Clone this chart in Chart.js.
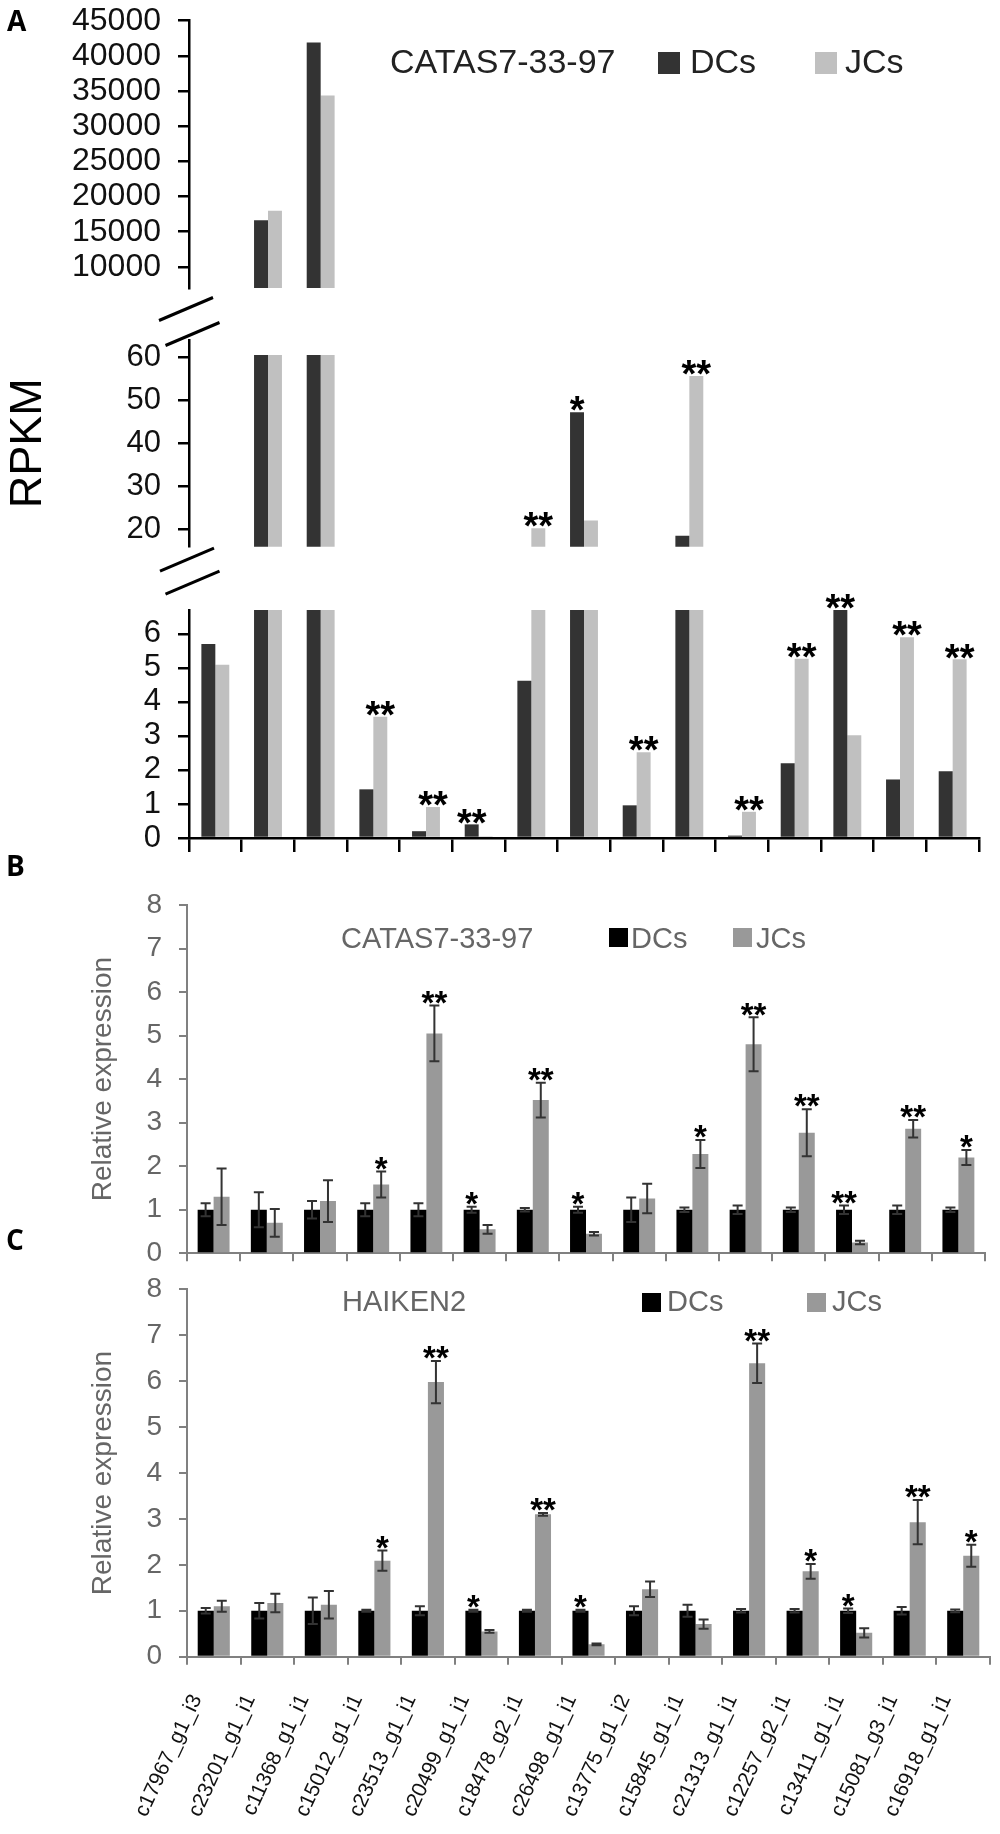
<!DOCTYPE html>
<html>
<head>
<meta charset="utf-8">
<script src="https://cdn.jsdelivr.net/npm/chart.js@4.4.1/dist/chart.umd.min.js"></script>
<style>
  body { margin: 0; background: #fff; }
  #page { position: relative; width: 1000px; height: 1834px; overflow: hidden; background: #fff; }
  .box { position: absolute; left: 0; width: 1000px; }
</style>
</head>
<body>
<div id="page">
  <div class="box" style="top:0px;height:304px"><canvas id="rpkmTop"></canvas></div>
  <div class="box" style="top:290px;height:330px"><canvas id="rpkmMid"></canvas></div>
  <div class="box" style="top:580px;height:274px"><canvas id="rpkmLow"></canvas></div>
  <div class="box" style="top:850px;height:414px"><canvas id="qpcrB"></canvas></div>
  <div class="box" style="top:1225px;height:609px"><canvas id="qpcrC"></canvas></div>
</div>
<script>
const SANS = "'Liberation Sans', Arial, Helvetica, sans-serif";
const GRAY = '#808080';

// gene ids, shared by all three panels
const genes = ['c17967_g1_i3', 'c23201_g1_i1', 'c11368_g1_i1', 'c15012_g1_i1', 'c23513_g1_i1',
  'c20499_g1_i1', 'c18478_g2_i1', 'c26498_g1_i1', 'c13775_g1_i2', 'c15845_g1_i1',
  'c21313_g1_i1', 'c12257_g2_i1', 'c13411_g1_i1', 'c15081_g3_i1', 'c16918_g1_i1'];

// A: RPKM, CATAS7-33-97
const dcRpkm = [5.70, 16620, 41900, 1.43, 0.20, 0.40, 4.62, 47.3, 0.96, 18.55, 0.07, 2.20, 6.7, 1.72, 1.96];
const jcRpkm = [5.09, 17980, 34360, 3.56, 0.91, 0.05, 20.3, 22.1, 2.52, 55.7, 0.77, 5.27, 3.02, 5.90, 5.25];
const sigA   = ['', '', '', '**', '**', '**', '**', '*', '**', '**', '**', '**', '**', '**', '**'];
const sigOnA = ['', '', '', 'JC', 'JC', 'DC', 'JC', 'DC', 'JC', 'JC', 'JC', 'JC', 'DC', 'JC', 'JC'];

// B: qRT-PCR, CATAS7-33-97
const dcRelB = [1, 1, 1, 1, 1, 1, 1, 1, 1, 1, 1, 1, 1, 1, 1];
const dcErrB = [0.15, 0.40, 0.20, 0.15, 0.15, 0.07, 0.04, 0.07, 0.28, 0.05, 0.10, 0.05, 0.10, 0.10, 0.05];
const jcRelB = [1.30, 0.70, 1.20, 1.58, 5.05, 0.55, 3.52, 0.45, 1.26, 2.28, 4.80, 2.77, 0.25, 2.86, 2.20];
const jcErrB = [0.65, 0.32, 0.48, 0.30, 0.64, 0.10, 0.40, 0.04, 0.34, 0.32, 0.62, 0.54, 0.04, 0.20, 0.17];
const sigB   = ['', '', '', '*', '**', '*', '**', '*', '', '*', '**', '**', '**', '**', '*'];
const sigOnB = ['', '', '', 'JC', 'JC', 'DC', 'JC', 'DC', '', 'JC', 'JC', 'JC', 'DC', 'JC', 'JC'];

// C: qRT-PCR, HAIKEN2
const dcRelC = [1, 1, 1, 1, 1, 1, 1, 1, 1, 1, 1, 1, 1, 1, 1];
const dcErrC = [0.06, 0.17, 0.29, 0.02, 0.10, 0.02, 0.02, 0.02, 0.10, 0.13, 0.04, 0.04, 0.05, 0.08, 0.03];
const jcRelC = [1.10, 1.17, 1.13, 2.09, 5.98, 0.55, 3.10, 0.27, 1.47, 0.71, 6.39, 1.86, 0.52, 2.93, 2.20];
const jcErrC = [0.12, 0.20, 0.30, 0.22, 0.46, 0.03, 0.03, 0.02, 0.17, 0.10, 0.43, 0.16, 0.10, 0.48, 0.24];
const sigC   = ['', '', '', '*', '**', '*', '**', '*', '', '', '**', '*', '*', '**', '*'];
const sigOnC = ['', '', '', 'JC', 'JC', 'DC', 'JC', 'DC', '', '', 'JC', 'JC', 'DC', 'JC', 'JC'];

// broken y axis of panel A: three ranges
const segTop = { min: 7000, max: 45000, step: 5000, first: 10000, clip: Infinity };
const segMid = { min: 16, max: 64.1, step: 10, first: 20, clip: 60.6 };
const segLow = { min: 0, max: 6.7, step: 1, first: 0, clip: 6.7 };

function cut(values, seg) {
  return values.map(v => v > seg.min ? Math.min(v, seg.clip) : null);
}

function starsFor(sig, on, key) {
  return sig.map((m, j) => on[j] === key ? m : '');
}

const errorBars = {
  id: 'errorBars',
  afterDatasetsDraw(chart) {
    const ctx = chart.ctx;
    const y = chart.scales.y;
    chart.data.datasets.forEach((ds, i) => {
      if (!ds.errors) return;
      chart.getDatasetMeta(i).data.forEach((bar, j) => {
        const v = ds.data[j], e = ds.errors[j];
        if (v == null || !e) return;
        const top = y.getPixelForValue(v + e);
        const bot = y.getPixelForValue(Math.max(v - e, 0));
        ctx.save();
        ctx.strokeStyle = '#333';
        ctx.lineWidth = 2;
        ctx.beginPath();
        ctx.moveTo(bar.x, top); ctx.lineTo(bar.x, bot);
        ctx.moveTo(bar.x - 5, top); ctx.lineTo(bar.x + 5, top);
        ctx.moveTo(bar.x - 5, bot); ctx.lineTo(bar.x + 5, bot);
        ctx.stroke();
        ctx.restore();
      });
    });
  }
};

const sigStars = {
  id: 'sigStars',
  afterDatasetsDraw(chart, args, o) {
    const ctx = chart.ctx;
    const y = chart.scales.y;
    ctx.save();
    ctx.font = 'bold ' + o.size + 'px ' + SANS;
    ctx.textAlign = 'center';
    ctx.textBaseline = 'alphabetic';
    ctx.fillStyle = '#000';
    chart.data.datasets.forEach((ds, i) => {
      chart.getDatasetMeta(i).data.forEach((bar, j) => {
        const m = ds.stars[j], v = ds.data[j];
        if (!m || v == null) return;
        if (ds.raw && ds.raw[j] > v) return; // bar continues in the next range
        const top = y.getPixelForValue(v + (ds.errors ? ds.errors[j] : 0));
        ctx.fillText(m, bar.x, top - o.gap + 0.40 * o.size);
      });
    });
    ctx.restore();
  }
};

const panelLegend = {
  id: 'panelLegend',
  afterDraw(chart, args, o) {
    const ctx = chart.ctx;
    ctx.save();
    ctx.textAlign = 'left';
    ctx.textBaseline = 'alphabetic';
    ctx.fillStyle = '#000';
    ctx.font = "bold 28px 'Open Sans', " + SANS;
    ctx.fillText(o.letter, o.letterX, o.letterY);
    ctx.font = o.size + 'px ' + SANS;
    ctx.fillStyle = o.color;
    ctx.fillText(o.title, o.titleX, o.baseline);
    chart.data.datasets.forEach((ds, i) => {
      ctx.fillStyle = ds.backgroundColor;
      ctx.fillRect(o.boxX[i], o.boxY, o.box, o.box);
      ctx.fillStyle = o.color;
      ctx.fillText(ds.label, o.textX[i], o.baseline);
    });
    ctx.restore();
  }
};

const axisBreak = {
  id: 'axisBreak',
  afterDraw(chart) {
    const ctx = chart.ctx, a = chart.chartArea;
    const marks = [[-3, a.top - 31], [3.5, a.top - 6], [-2, a.bottom + 13], [3.5, a.bottom + 36]];
    ctx.save();
    ctx.strokeStyle = '#000';
    ctx.lineWidth = 3;
    marks.forEach(([dx, y]) => {
      ctx.beginPath();
      ctx.moveTo(a.left + dx - 27, y + 11.5);
      ctx.lineTo(a.left + dx + 27, y - 11.5);
      ctx.stroke();
    });
    ctx.restore();
  }
};

function rpkmChart(id, seg, o) {
  return new Chart(document.getElementById(id), {
    type: 'bar',
    data: {
      labels: genes,
      datasets: [
        { label: 'DCs', data: cut(dcRpkm, seg), raw: dcRpkm, stars: starsFor(sigA, sigOnA, 'DC'), backgroundColor: '#333333' },
        { label: 'JCs', data: cut(jcRpkm, seg), raw: jcRpkm, stars: starsFor(sigA, sigOnA, 'JC'), backgroundColor: '#c0c0c0' }
      ]
    },
    options: {
      responsive: true,
      maintainAspectRatio: false,
      animation: false,
      layout: { padding: { top: o.padTop, right: 21, bottom: o.padBottom, left: 0 } },
      datasets: { bar: { categoryPercentage: 0.53, barPercentage: 1 } },
      scales: {
        x: {
          display: o.xAxis,
          ticks: { display: false },
          grid: { drawOnChartArea: false, tickLength: 14, color: '#000', lineWidth: 2.5 },
          border: { color: '#000', width: 2.5 },
          afterFit: s => { s.height = 16; s.paddingLeft = 0; s.paddingRight = 0; }
        },
        y: {
          min: seg.min,
          max: seg.max,
          ticks: {
            autoSkip: false,
            color: '#111',
            font: { family: SANS, size: o.tickSize },
            padding: 17,
            callback: v => String(v)
          },
          afterBuildTicks: s => {
            const ticks = [];
            for (let v = seg.first; v <= seg.max + 1e-9; v += seg.step) ticks.push({ value: v });
            s.ticks = ticks;
          },
          grid: { drawOnChartArea: false, tickLength: 11, color: '#000', lineWidth: 2.5 },
          border: { color: '#000', width: 2.5 },
          title: {
            display: !!o.yTitle,
            text: o.yTitle || '',
            color: '#000',
            font: { family: SANS, size: 45 },
            padding: { top: 1.5, bottom: 0 }
          },
          afterFit: s => { s.width = 189; s.paddingTop = 0; s.paddingBottom = 0; }
        }
      },
      plugins: {
        legend: { display: false },
        tooltip: { enabled: false },
        sigStars: { size: 38, gap: 4 },
        panelLegend: o.legend || {}
      }
    },
    plugins: o.plugins
  });
}

function qpcrChart(id, o) {
  return new Chart(document.getElementById(id), {
    type: 'bar',
    data: {
      labels: genes,
      datasets: [
        { label: 'DCs', data: o.dc, errors: o.dcErr, stars: starsFor(o.sig, o.sigOn, 'DC'), backgroundColor: '#000000' },
        { label: 'JCs', data: o.jc, errors: o.jcErr, stars: starsFor(o.sig, o.sigOn, 'JC'), backgroundColor: '#999999' }
      ]
    },
    options: {
      responsive: true,
      maintainAspectRatio: false,
      animation: false,
      layout: { padding: { top: o.padTop, right: o.padRight, bottom: 0, left: 0 } },
      datasets: { bar: { categoryPercentage: 0.6, barPercentage: 1 } },
      scales: {
        x: {
          ticks: o.names ? {
            autoSkip: false,
            minRotation: 65,
            maxRotation: 65,
            color: '#111',
            font: { family: SANS, size: 21 },
            padding: 26,
            labelOffset: -17
          } : { display: false },
          grid: { drawOnChartArea: false, tickLength: 8, color: GRAY, lineWidth: 2 },
          border: { color: GRAY, width: 2 },
          afterFit: s => { s.height = o.xHeight; s.paddingLeft = 0; s.paddingRight = 0; }
        },
        y: {
          min: 0,
          max: 8,
          ticks: {
            stepSize: 1,
            autoSkip: false,
            color: '#666',
            font: { family: SANS, size: 28 },
            padding: 17,
            callback: v => String(v)
          },
          grid: { drawOnChartArea: false, tickLength: 8, color: GRAY, lineWidth: 2 },
          border: { color: GRAY, width: 2 },
          title: {
            display: true,
            text: 'Relative expression',
            color: '#666',
            font: { family: SANS, size: 28 },
            padding: { top: 86.7, bottom: 0 }
          },
          afterFit: s => { s.width = 187; s.paddingTop = 0; s.paddingBottom = 0; }
        }
      },
      plugins: {
        legend: { display: false },
        tooltip: { enabled: false },
        sigStars: { size: 33, gap: 5 },
        panelLegend: o.legend
      }
    },
    plugins: [errorBars, sigStars, panelLegend]
  });
}

rpkmChart('rpkmTop', segTop, {
  padTop: 20.7, padBottom: 0, xAxis: false, tickSize: 32,
  legend: {
    letter: 'A', letterX: 7, letterY: 31,
    title: 'CATAS7-33-97', titleX: 390, baseline: 73, size: 34, color: '#222',
    boxX: [658, 815], textX: [690, 845], boxY: 52, box: 22
  },
  plugins: [sigStars, panelLegend]
});

rpkmChart('rpkmMid', segMid, {
  padTop: 50, padBottom: 57.3, xAxis: false, tickSize: 31, yTitle: 'RPKM',
  plugins: [sigStars, axisBreak]
});

rpkmChart('rpkmLow', segLow, {
  padTop: 30, padBottom: 0, xAxis: true, tickSize: 31,
  plugins: [sigStars]
});

qpcrChart('qpcrB', {
  dc: dcRelB, dcErr: dcErrB, jc: jcRelB, jcErr: jcErrB, sig: sigB, sigOn: sigOnB,
  padTop: 55, padRight: 15, xHeight: 10.7, names: false,
  legend: {
    letter: 'B', letterX: 6, letterY: 26,
    title: 'CATAS7-33-97', titleX: 341, baseline: 98, size: 29, color: '#666',
    boxX: [609, 733], textX: [631, 756], boxY: 78, box: 19
  }
});

qpcrChart('qpcrC', {
  dc: dcRelC, dcErr: dcErrC, jc: jcRelC, jcErr: jcErrC, sig: sigC, sigOn: sigOnC,
  padTop: 64.3, padRight: 10, xHeight: 177.3, names: true,
  legend: {
    letter: 'C', letterX: 6, letterY: 25,
    title: 'HAIKEN2', titleX: 342, baseline: 86, size: 29, color: '#666',
    boxX: [642, 807], textX: [667, 832], boxY: 68, box: 19
  }
});
</script>
</body>
</html>
